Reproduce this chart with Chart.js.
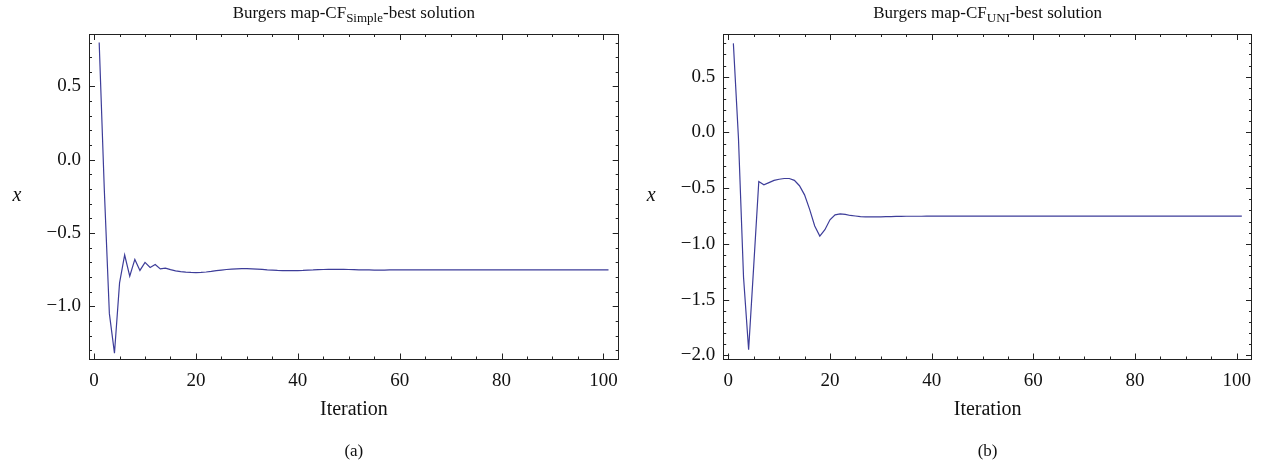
<!DOCTYPE html>
<html>
<head>
<meta charset="utf-8">
<script src="https://cdn.jsdelivr.net/npm/chart.js@4.4.0/dist/chart.umd.min.js"></script>
<style>
  html, body { margin: 0; padding: 0; background: #fff; }
  #wrap { position: relative; width: 1264px; height: 467px; }
  .panel { position: absolute; top: 0; width: 632px; height: 467px; }
</style>
</head>
<body>
<div id="wrap">
  <div class="panel" style="left:0"><canvas id="chartA" width="632" height="467"></canvas></div>
  <div class="panel" style="left:632px"><canvas id="chartB" width="632" height="467"></canvas></div>
</div>
<script>
// iteration numbers (x) shared by both panels
const iterations = [
  1, 2, 3, 4, 5, 6, 7, 8, 9, 10, 11, 12, 13, 14, 15, 16, 17, 18, 19, 20,
  21, 22, 23, 24, 25, 26, 27, 28, 29, 30, 31, 32, 33, 34, 35, 36, 37, 38, 39, 40,
  41, 42, 43, 44, 45, 46, 47, 48, 49, 50, 51, 52, 53, 54, 55, 56, 57, 58, 59, 60,
  61, 62, 63, 64, 65, 66, 67, 68, 69, 70, 71, 72, 73, 74, 75, 76, 77, 78, 79, 80,
  81, 82, 83, 84, 85, 86, 87, 88, 89, 90, 91, 92, 93, 94, 95, 96, 97, 98, 99, 100, 101
];

// (a) CF_Simple best solution
const simpleValues = [
  0.80, -0.20, -1.05, -1.32, -0.84, -0.65, -0.795, -0.68, -0.755, -0.70,
  -0.735, -0.715, -0.745, -0.74, -0.75, -0.758, -0.763, -0.767, -0.769, -0.770,
  -0.769, -0.766, -0.762, -0.757, -0.753, -0.749, -0.746, -0.744, -0.743, -0.743,
  -0.744, -0.746, -0.748, -0.751, -0.753, -0.755, -0.756, -0.757, -0.757, -0.756,
  -0.755, -0.753, -0.752, -0.750, -0.749, -0.748, -0.748, -0.748, -0.748, -0.749,
  -0.750, -0.751, -0.752, -0.752, -0.753, -0.753, -0.753, -0.752, -0.752, -0.751,
  -0.751, -0.751, -0.751, -0.751, -0.752, -0.752, -0.752, -0.752, -0.751, -0.751,
  -0.751, -0.751, -0.751, -0.751, -0.751, -0.751, -0.751, -0.751, -0.751, -0.751,
  -0.751, -0.751, -0.751, -0.751, -0.751, -0.751, -0.751, -0.751, -0.751, -0.751,
  -0.751, -0.751, -0.751, -0.751, -0.751, -0.751, -0.751, -0.751, -0.751, -0.751, -0.751
];

// (b) CF_UNI best solution
const uniValues = [
  0.80, -0.05, -1.30, -1.95, -1.20, -0.44, -0.47, -0.45, -0.43, -0.42,
  -0.413, -0.413, -0.43, -0.478, -0.56, -0.69, -0.84, -0.93, -0.873, -0.784,
  -0.739, -0.730, -0.736, -0.745, -0.750, -0.755, -0.757, -0.758, -0.758, -0.757,
  -0.756, -0.755, -0.754, -0.753, -0.752, -0.752, -0.752, -0.752, -0.751, -0.751,
  -0.751, -0.751, -0.751, -0.751, -0.751, -0.751, -0.751, -0.751, -0.751, -0.751,
  -0.751, -0.751, -0.751, -0.751, -0.751, -0.751, -0.751, -0.751, -0.751, -0.751,
  -0.751, -0.751, -0.751, -0.751, -0.751, -0.751, -0.751, -0.751, -0.751, -0.751,
  -0.751, -0.751, -0.751, -0.751, -0.751, -0.751, -0.751, -0.751, -0.751, -0.751,
  -0.751, -0.751, -0.751, -0.751, -0.751, -0.751, -0.751, -0.751, -0.751, -0.751,
  -0.751, -0.751, -0.751, -0.751, -0.751, -0.751, -0.751, -0.751, -0.751, -0.751, -0.751
];

const xTicks = [0, 20, 40, 60, 80, 100];
const yTicksSimple = [-1.0, -0.5, 0.0, 0.5];
const yTicksUni = [-2.0, -1.5, -1.0, -0.5, 0.0, 0.5];

const SERIF = '"Liberation Serif", "Times New Roman", serif';
const LINE = 'rgb(61, 61, 153)';
const INK = '#222';

// frame with inward ticks on all four sides + titles, like the Mathematica look
const frameAndText = {
  id: 'frameAndText',
  afterDraw(chart, args, o) {
    const { ctx, chartArea: a, scales: { x, y } } = chart;
    ctx.save();
    ctx.strokeStyle = INK;
    ctx.lineWidth = 1;
    ctx.strokeRect(Math.round(a.left) + 0.5, Math.round(a.top) + 0.5,
      Math.round(a.right - a.left) - 1, Math.round(a.bottom - a.top) - 1);

    ctx.beginPath();
    for (let v = 0; v <= 100; v += 5) {
      const len = v % 20 === 0 ? 6 : 3;
      const px = Math.round(x.getPixelForValue(v)) + 0.5;
      ctx.moveTo(px, a.bottom); ctx.lineTo(px, a.bottom - len);
      ctx.moveTo(px, a.top); ctx.lineTo(px, a.top + len);
    }
    for (let k = Math.ceil(y.min * 10); k <= Math.floor(y.max * 10); k++) {
      const len = k % 5 === 0 ? 6 : 3;
      const py = Math.round(y.getPixelForValue(k / 10)) + 0.5;
      ctx.moveTo(a.left, py); ctx.lineTo(a.left + len, py);
      ctx.moveTo(a.right, py); ctx.lineTo(a.right - len, py);
    }
    ctx.stroke();

    // title with subscript
    ctx.fillStyle = '#111';
    ctx.textBaseline = 'alphabetic';
    const big = '17px ' + SERIF, small = '13px ' + SERIF;
    ctx.font = big;
    const w1 = ctx.measureText(o.head).width, w3 = ctx.measureText(o.tail).width;
    ctx.font = small;
    const w2 = ctx.measureText(o.sub).width;
    let tx = (a.left + a.right) / 2 - (w1 + w2 + w3) / 2;
    const ty = 18;
    ctx.textAlign = 'left';
    ctx.font = big; ctx.fillText(o.head, tx, ty); tx += w1;
    ctx.font = small; ctx.fillText(o.sub, tx, ty + 4); tx += w2;
    ctx.font = big; ctx.fillText(o.tail, tx, ty);

    // y label and panel letter
    ctx.textAlign = 'center';
    ctx.textBaseline = 'middle';
    ctx.font = 'italic 20px ' + SERIF;
    ctx.fillText('x', a.left - 72, 196);
    ctx.font = '17px ' + SERIF;
    ctx.fillText(o.panel, (a.left + a.right) / 2, 452);
    ctx.restore();
  }
};

function makeChart(id, values, yTicks, yMin, yMax, yWidth, padRight, text) {
  return new Chart(document.getElementById(id), {
    type: 'line',
    data: {
      datasets: [{
        data: iterations.map((it, i) => ({ x: it, y: values[i] })),
        borderColor: LINE,
        borderWidth: 1.2,
        pointRadius: 0,
        tension: 0,
        fill: false
      }]
    },
    options: {
      responsive: false,
      animation: false,
      layout: { padding: { left: 0, right: padRight, top: 34, bottom: 0 } },
      plugins: { legend: { display: false }, title: { display: false }, tooltip: { enabled: false }, frameAndText: text },
      scales: {
        x: {
          type: 'linear',
          min: -1, max: 103,
          afterBuildTicks: s => { s.ticks = xTicks.map(v => ({ value: v })); },
          afterFit: s => { s.height = 107.5; },
          grid: { display: false, drawTicks: false },
          border: { display: false },
          ticks: { padding: 10, color: '#111', font: { family: SERIF, size: 19 }, maxRotation: 0 },
          title: { display: true, text: 'Iteration', color: '#111', font: { family: SERIF, size: 20 }, padding: { top: 0, bottom: 45 } }
        },
        y: {
          min: yMin, max: yMax,
          afterBuildTicks: s => { s.ticks = yTicks.map(v => ({ value: v })); },
          afterFit: s => { s.width = yWidth; },
          grid: { display: false, drawTicks: false },
          border: { display: false },
          ticks: {
            padding: 8, color: '#111', font: { family: SERIF, size: 19 },
            callback: v => v.toFixed(1).replace('-', '\u2212')
          }
        }
      }
    },
    plugins: [frameAndText]
  });
}

makeChart('chartA', simpleValues, yTicksSimple, -1.363, 0.858, 89, 13.3,
  { head: 'Burgers map-CF', sub: 'Simple', tail: '-best solution', panel: '(a)' });
makeChart('chartB', uniValues, yTicksUni, -2.038, 0.884, 91.2, 12,
  { head: 'Burgers map-CF', sub: 'UNI', tail: '-best solution', panel: '(b)' });
</script>
</body>
</html>
